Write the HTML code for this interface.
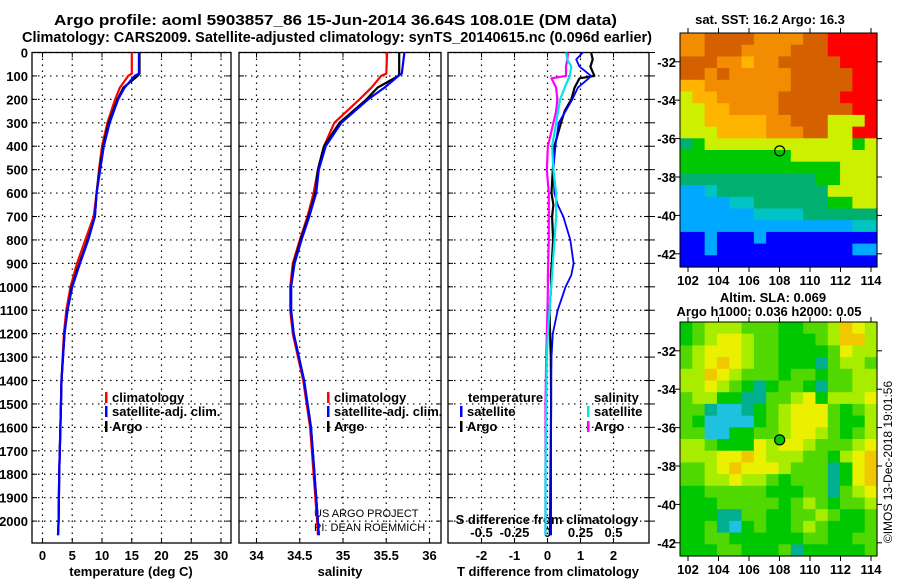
<!DOCTYPE html>
<html><head><meta charset="utf-8"><style>
html,body{margin:0;padding:0;background:#fff;width:900px;height:580px;overflow:hidden}
svg{display:block;font-family:"Liberation Sans",Arial,sans-serif}
.b{font-weight:bold;font-size:13px}
.t{font-weight:bold;font-size:14.5px}
</style></head><body>
<svg id="fig" width="900" height="580" viewBox="0 0 900 580" xmlns="http://www.w3.org/2000/svg">
<text class="t" x="54" y="25" textLength="563" lengthAdjust="spacingAndGlyphs">Argo profile: aoml 5903857_86 15-Jun-2014 36.64S 108.01E (DM data)</text>
<text class="t" x="22" y="42" textLength="630" lengthAdjust="spacingAndGlyphs">Climatology: CARS2009. Satellite-adjusted climatology: synTS_20140615.nc (0.096d earlier)</text>
<text class="b" x="770" y="24" text-anchor="middle">sat. SST: 16.2 Argo: 16.3</text>
<text class="b" x="773" y="302" text-anchor="middle">Altim. SLA: 0.069</text>
<text class="b" x="769" y="316" text-anchor="middle">Argo h1000: 0.036 h2000: 0.05</text>
<text x="314" y="517" font-size="11">US ARGO PROJECT</text>
<text x="314" y="531" font-size="11">PI: DEAN ROEMMICH</text>
<text x="0" y="0" font-size="12" transform="translate(892,462) rotate(-90)" text-anchor="middle">©IMOS 13-Dec-2018 19:01:56</text>
<g id="layer"></g>
</svg>
<script>
// ---- profile data ----
const profDepth = [0,90,100,150,200,300,400,500,600,700,800,900,1000,1100,1200,1400,1600,1800,2000,2060];
const tempClim = [15.0,15.0,14.4,13.0,12.2,10.9,10.0,9.5,9.1,8.6,7.2,5.8,4.7,4.0,3.6,3.2,3.0,2.8,2.7,2.6];
const tempSat  = [16.2,16.2,15.5,13.8,12.7,11.3,10.3,9.7,9.1,8.8,7.7,6.3,5.0,4.2,3.7,3.2,3.0,2.8,2.7,2.6];
const tempArgo = [16.3,16.3,16.0,13.6,12.6,11.1,10.2,9.6,9.1,8.8,7.6,6.2,4.9,4.2,3.7,3.2,3.0,2.8,2.7,2.6];
const salClim = [35.51,35.50,35.44,35.33,35.19,34.90,34.78,34.71,34.66,34.59,34.50,34.42,34.39,34.39,34.42,34.54,34.62,34.66,34.70,34.71];
const salSat  = [35.71,35.68,35.64,35.48,35.29,34.98,34.80,34.72,34.69,34.61,34.52,34.44,34.40,34.40,34.43,34.55,34.63,34.67,34.71,34.72];
const salArgo = [35.65,35.65,35.64,35.40,35.27,34.96,34.78,34.71,34.68,34.60,34.51,34.43,34.40,34.40,34.43,34.55,34.63,34.67,34.71,34.72];
const diffDepth = [0,30,60,100,110,150,200,250,300,400,500,600,650,700,800,900,950,1000,1100,1200,1300,1500,1800,2060];
const tSatDiff  = [1.07,0.87,0.97,1.32,1.25,0.92,0.75,0.55,0.34,0.24,0.18,0.21,0.31,0.48,0.69,0.79,0.72,0.55,0.31,0.16,0.12,0.11,0.11,0.11];
const tArgoDiff = [1.32,1.37,1.30,1.42,0.97,0.82,0.72,0.52,0.41,0.21,0.16,0.12,0.18,0.14,0.17,0.13,0.10,0.11,0.06,0.08,0.10,0.11,0.09,0.08];
const sArgoDiff = [0.155,0.15,0.14,0.14,0.03,0.065,0.075,0.065,0.045,0.003,-0.005,0.01,0.01,0.01,0.01,0.005,0.003,0.003,0.0,-0.005,-0.01,-0.015,-0.015,-0.015];
const sSatDiff  = [0.14,0.15,0.18,0.17,0.16,0.13,0.096,0.08,0.066,0.035,0.045,0.065,0.065,0.065,0.053,0.04,0.035,0.028,0.015,0.003,-0.005,-0.01,-0.015,-0.015];
const depthTicks = [0,100,200,300,400,500,600,700,800,900,1000,1100,1200,1300,1400,1500,1600,1700,1800,1900,2000];
const tempTicks = [0,5,10,15,20,25,30];
const salTicks = [34,34.5,35,35.5,36];
const tdiffTicks = [-2,-1,0,1,2];
const sdiffTicks = [-0.5,-0.25,0,0.25,0.5];
const sdiffLabels = ["-0.5","-0.25","0","0.25","0.5"];
// ---- map data (row strings, colour class per cell) ----
const sstRows = ["2211112222110000","2211122221110000","1112232211111000","1121222221111100","3322222221111100","4332222211111000","4433222211111100","4433333221114440","4443333222114400","6544444444444454","5555555554444444","5555555555555444","6666666666655444","8876666666664444","8888776666665544","8888887777666666","8888888888888877","9989998999999999","9989999999999988","9999999999999999"];
const slaRows = ["2344433322334654","2345543322234664","3455543322223544","3456543322213443","4465433323323344","4454321233213344","3442211334524445","3310012345553234","3200002345553224","3300223345543234","4432225455433345","4445565444332456","3345655543331256","3344544323331256","2233333222331345","2223333323432334","2221133223343223","2231023223432223","2233222222332233","2223322231222223"];
const lonTicks = [102,104,106,108,110,112,114];
const latTicks = [-32,-34,-36,-38,-40,-42];
const argoLon = 108.01, argoLat = -36.64;

const NS="http://www.w3.org/2000/svg";
const layer=document.getElementById('layer');
function mk(tag,attrs,parent){const e=document.createElementNS(NS,tag);for(const k in attrs)e.setAttribute(k,attrs[k]);(parent||layer).appendChild(e);return e;}
const yD=d=>52.5+d*0.2343;
const xT=t=>42.5+5.95*t;
const xS=s=>256.5+86.5*(s-34);
const xDT=v=>547.5+33*v;
const xDS=v=>547.5+132*v;
const panels=[{x0:32,x1:231,name:'temperature'},{x0:239,x1:441,name:'salinity'},{x0:448,x1:649,name:'difference'}];
const TOP=52.5,BOT=543;

panels.forEach((p,pi)=>{
  const g=mk('g',{});
  
  
  depthTicks.forEach(d=>{
    const gl=mk('line',{x1:p.x0,x2:p.x1,y1:yD(d),y2:yD(d),stroke:'#000','stroke-width':1.2,'stroke-dasharray':'1.5,4.5'},g);
    
    
    mk('line',{x1:p.x0,x2:p.x0+5,y1:yD(d),y2:yD(d),stroke:'#000'},g);
    mk('line',{x1:p.x1-5,x2:p.x1,y1:yD(d),y2:yD(d),stroke:'#000'},g);
    if(pi===2) mk('line',{x1:p.x1,x2:p.x1+6,y1:yD(d),y2:yD(d),stroke:'#000'},g);
  });
  const ticks=pi===0?tempTicks:pi===1?salTicks:tdiffTicks;
  const fx=pi===0?xT:pi===1?xS:xDT;
  ticks.forEach(t=>{
    const gl=mk('line',{x1:fx(t),x2:fx(t),y1:TOP,y2:BOT,stroke:'#000','stroke-width':1.2,'stroke-dasharray':'1.5,4.5'},g);
    
    
    mk('line',{x1:fx(t),x2:fx(t),y1:BOT,y2:BOT-5,stroke:'#000'},g);
    mk('line',{x1:fx(t),x2:fx(t),y1:TOP,y2:TOP+5,stroke:'#000'},g);
    const tl=mk('text',{x:fx(t),y:560,'text-anchor':'middle','class':'b'},g);
    tl.textContent=String(t);
    
    
  });
  const fr=mk('rect',{x:p.x0,y:TOP,width:p.x1-p.x0,height:BOT-TOP,fill:'none',stroke:'#000','stroke-width':1.3},g);
  
  
});
depthTicks.forEach(d=>{
  const t=mk('text',{x:28,y:yD(d)+5,'text-anchor':'end','class':'b'});
  t.textContent=String(d);
  
  
});
sdiffTicks.forEach((v,i)=>{
  const t=mk('text',{x:xDS(v),y:537,'text-anchor':'middle','class':'b'});
  t.textContent=sdiffLabels[i];
  
  
});
[['temperature (deg C)',131,'temperature-axis-title'],['salinity',340,'salinity-axis-title'],['T difference from climatology',548,'t-diff-axis-title']].forEach(a=>{
  const t=mk('text',{x:a[1],y:576,'text-anchor':'middle','class':'b'});
  t.textContent=a[0];
  
  
});
const st=mk('text',{x:547,y:524,'text-anchor':'middle','class':'b'});
st.textContent='S difference from climatology';



function curve(vals,depths,fx,color,name,w){
  const pts=vals.map((v,i)=>fx(v).toFixed(1)+','+yD(depths[i]).toFixed(1)).join(' ');
  const pl=mk('polyline',{points:pts,fill:'none',stroke:color,'stroke-width':w||2.2,'stroke-linejoin':'round'});
  
  
}
curve(tempClim,profDepth,xT,'#ff0000','temp-climatology-line');
curve(tempArgo,profDepth,xT,'#000','temp-argo-line');
curve(tempSat,profDepth,xT,'#0000ff','temp-satellite-line');
curve(salClim,profDepth,xS,'#ff0000','sal-climatology-line');
curve(salArgo,profDepth,xS,'#000','sal-argo-line');
curve(salSat,profDepth,xS,'#0000ff','sal-satellite-line');
curve(sArgoDiff,diffDepth,xDS,'#ff00ff','s-argo-diff-line');
curve(tArgoDiff,diffDepth,xDT,'#000','t-argo-diff-line');
curve(tSatDiff,diffDepth,xDT,'#0000ff','t-satellite-diff-line',1.8);
curve(sSatDiff,diffDepth,xDS,'#00e5e5','s-satellite-diff-line');

function legend(x,y,color,label,name){
  mk('rect',{x:x,y:y-10,width:2.5,height:11,fill:color});
  const t=mk('text',{x:x+7,y:y,'class':'b'});
  t.textContent=label;
  
  
}
legend(105,402,'#ff0000','climatology','legend-temp-climatology');
legend(105,416,'#0000ff','satellite-adj. clim.','legend-temp-satellite');
legend(105,431,'#000','Argo','legend-temp-argo');
legend(327,402,'#ff0000','climatology','legend-sal-climatology');
legend(327,416,'#0000ff','satellite-adj. clim.','legend-sal-satellite');
legend(327,431,'#000','Argo','legend-sal-argo');
const lt=mk('text',{x:468,y:402,'class':'b'});lt.textContent='temperature';


legend(460,416,'#0000ff','satellite','legend-t-satellite');
legend(460,431,'#000','Argo','legend-t-argo');
const ls=mk('text',{x:594,y:402,'class':'b'});ls.textContent='salinity';


legend(587,416,'#00e5e5','satellite','legend-s-satellite');
legend(587,431,'#ff00ff','Argo','legend-s-argo');

// ---- maps ----
const sstColors=['#ff0000','#d46000','#f28c00','#ffb400','#ccf000','#00c800','#00b070','#00c4c4','#00a8ff','#0000ff'];
const slaColors=['#20c0e0','#00b090','#00c800','#50d800','#a8ec00','#eaf000','#f0c800'];
const MX0=680,MX1=877;
const lonX=l=>688+(l-102)*15.25;
function drawMap(rows,colors,y0,name){
  const H=234,nr=rows.length,nc=rows[0].length;
  const cw=(MX1-MX0)/nc,ch=H/nr;
  const g=mk('g',{});
  
  
  rows.forEach((r,i)=>{for(let j=0;j<nc;j++){
    const c=mk('rect',{x:(MX0+j*cw).toFixed(2),y:(y0+i*ch).toFixed(2),width:(cw+0.6).toFixed(2),height:(ch+0.6).toFixed(2),fill:colors[+r[j]]},g);
    
    
  }});
  const latY=l=>y0+(-30.5-l)*19.2;
  mk('rect',{x:MX0,y:y0,width:MX1-MX0,height:H,fill:'none',stroke:'#000','stroke-width':1},g);
  lonTicks.forEach(l=>{
    mk('line',{x1:lonX(l),x2:lonX(l),y1:y0,y2:y0-5,stroke:'#000'},g);
    mk('line',{x1:lonX(l),x2:lonX(l),y1:y0+H,y2:y0+H+5,stroke:'#000'},g);
    const t=mk('text',{x:lonX(l),y:y0+H+18,'text-anchor':'middle','class':'b'},g);
    t.textContent=String(l);
    
    
  });
  latTicks.forEach(l=>{
    mk('line',{x1:MX0,x2:MX0-5,y1:latY(l),y2:latY(l),stroke:'#000'},g);
    mk('line',{x1:MX1,x2:MX1+5,y1:latY(l),y2:latY(l),stroke:'#000'},g);
    const t=mk('text',{x:MX0-4,y:latY(l)+5,'text-anchor':'end','class':'b'},g);
    t.textContent=String(l);
    
    
  });
  const m=mk('circle',{cx:lonX(argoLon),cy:latY(argoLat),r:5,fill:'none',stroke:'#000','stroke-width':1.2},g);
  
  
  return m;
}
drawMap(sstRows,sstColors,33,'sst-map');
const m2=drawMap(slaRows,slaColors,322,'sla-map');
m2.setAttribute('fill','#00c800');
</script>
</body></html>
